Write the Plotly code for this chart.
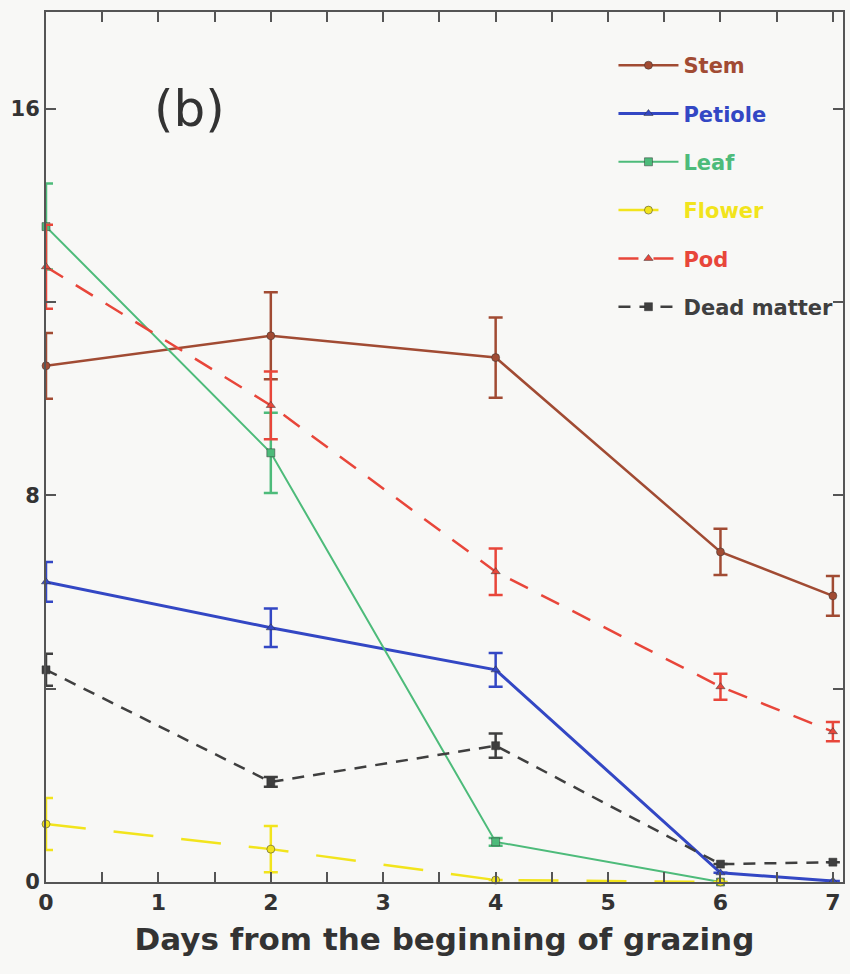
import plotly.graph_objects as go

days_full = [0, 2, 4, 6, 7]
days_short = [0, 2, 4, 6]

stem = [10.68, 11.30, 10.85, 6.83, 5.92]
stem_err = [0.68, 0.90, 0.83, 0.48, 0.41]
petiole = [6.21, 5.26, 4.39, 0.19, 0.02]
petiole_err = [0.41, 0.40, 0.35, 0.0, 0.0]
leaf = [13.56, 8.88, 0.83, 0.0]
leaf_err = [0.89, 0.83, 0.08, 0.0]
flower = [1.20, 0.68, 0.04, 0.0]
flower_err = [0.54, 0.48, 0.0, 0.0]
pod = [12.73, 9.86, 6.42, 4.04, 3.11]
pod_err = [0.87, 0.70, 0.48, 0.27, 0.20]
dead = [4.39, 2.07, 2.82, 0.37, 0.41]
dead_err = [0.33, 0.10, 0.25, 0.0, 0.0]

series = [
    ("Stem", days_full, stem, stem_err, "#a14b33", "solid", 2.5, "circle"),
    ("Petiole", days_full, petiole, petiole_err, "#3347c4", "solid", 3, "triangle-up"),
    ("Leaf", days_short, leaf, leaf_err, "#4dbb7a", "solid", 2, "square"),
    ("Flower", days_short, flower, flower_err, "#f2e41c", "40px,28px", 2.5, "circle"),
    ("Pod", days_full, pod, pod_err, "#e8463a", "20px,15px", 2.5, "triangle-up"),
    ("Dead matter", days_full, dead, dead_err, "#3f3f3f", "12px,9px", 2.5, "square"),
]

fig = go.Figure()
for name, xs, ys, es, col, dash, lw, sym in series:
    fig.add_trace(go.Scatter(
        x=xs, y=ys, mode="lines+markers",
        name="<span style='color:%s'><b>%s</b></span>" % (col, name),
        legendgroup=name,
        line=dict(color=col, width=lw, dash=dash),
        marker=dict(symbol=sym, size=8, color=col, line=dict(color="#333333", width=0.5)),
        error_y=dict(type="data", array=es, visible=True, color=col, thickness=2.5, width=7),
        cliponaxis=False,
    ))

x_ticks = [i * 0.5 for i in range(15)]
x_text = [str(int(v)) if v == int(v) else "" for v in x_ticks]

fig.update_layout(
    width=850, height=974,
    margin=dict(l=46, r=5, t=12, b=92),
    paper_bgcolor="#f8f8f6", plot_bgcolor="#f8f8f6",
    font=dict(family="DejaVu Sans", color="#333333"),
    showlegend=True,
    legend=dict(x=0.712, y=0.962, xanchor="left", yanchor="top",
                bgcolor="rgba(0,0,0,0)", font=dict(size=21, family="DejaVu Sans"),
                tracegroupgap=18, itemwidth=60),
    xaxis=dict(range=[0, 7.09], tickvals=x_ticks, ticktext=x_text,
               ticks="inside", ticklen=10, tickwidth=2, tickcolor="#555555",
               showline=True, linecolor="#555555", linewidth=2, mirror="ticks",
               showgrid=False, zeroline=False,
               tickfont=dict(size=22, family="DejaVu Sans", color="#333333", weight="bold"),
               title=dict(text="<b>Days from the beginning of grazing</b>",
                          font=dict(size=31, family="DejaVu Sans", color="#333333"),
                          standoff=14)),
    yaxis=dict(range=[0, 18], tickvals=[0, 4, 8, 12, 16], ticktext=["0", "", "8", "", "16"],
               ticks="inside", ticklen=10, tickwidth=2, tickcolor="#555555",
               showline=True, linecolor="#555555", linewidth=2, mirror="ticks",
               showgrid=False, zeroline=False,
               tickfont=dict(size=21, family="DejaVu Sans", color="#333333", weight="bold")),
    annotations=[dict(text="(b)", x=1.28, y=16.0, xref="x", yref="y", showarrow=False,
                      font=dict(size=50, family="DejaVu Sans", color="#333333"))],
)

fig.write_html("out.html", config={"displayModeBar": False},
               post_script="document.body.style.margin='0';")
